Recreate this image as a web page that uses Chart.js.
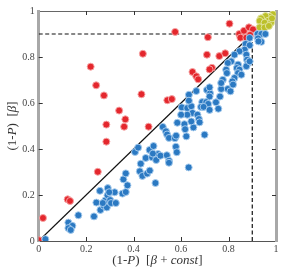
<!DOCTYPE html>
<html>
<head>
<meta charset="utf-8">
<script src="https://cdn.jsdelivr.net/npm/chart.js@4.4.1/dist/chart.umd.min.js"></script>
<style>
  html, body { margin: 0; padding: 0; background: #fff; }
</style>
</head>
<body>
<canvas id="scatterChart" width="293" height="273"></canvas>
<script>
/* datos: x = (1-P)[beta+const], y = (1-P)[beta] */

const bluePoints = [
  [0.028,0.008],[0.125,0.080],[0.142,0.066],[0.125,0.056],[0.135,0.048],
  [0.167,0.112],[0.233,0.107],[0.243,0.167],[0.258,0.218],[0.260,0.135],
  [0.274,0.153],[0.287,0.146],[0.281,0.177],[0.290,0.199],[0.291,0.230],
  [0.301,0.178],[0.305,0.165],[0.320,0.212],[0.325,0.165],[0.297,0.212],
  [0.270,0.165],[0.353,0.206],[0.367,0.213],[0.374,0.242],[0.357,0.268],
  [0.367,0.294],[0.406,0.387],[0.419,0.406],[0.430,0.336],[0.426,0.303],
  [0.437,0.283],[0.451,0.361],[0.457,0.293],[0.467,0.396],[0.468,0.306],
  [0.492,0.252],[0.632,0.320],[0.484,0.413],[0.503,0.378],[0.478,0.364],
  [0.495,0.352],[0.481,0.380],[0.513,0.371],[0.540,0.373],[0.549,0.349],
  [0.549,0.340],[0.578,0.410],[0.582,0.386],[0.523,0.496],[0.536,0.477],
  [0.541,0.463],[0.549,0.448],[0.574,0.447],[0.579,0.458],[0.622,0.455],
  [0.699,0.462],[0.584,0.514],[0.614,0.508],[0.617,0.486],[0.652,0.494],
  [0.603,0.581],[0.626,0.578],[0.643,0.586],[0.648,0.557],[0.626,0.549],
  [0.600,0.549],[0.643,0.520],[0.633,0.636],[0.633,0.610],[0.664,0.652],
  [0.709,0.657],[0.722,0.642],[0.720,0.628],[0.764,0.628],[0.769,0.661],
  [0.797,0.661],[0.808,0.651],[0.689,0.604],[0.706,0.604],[0.714,0.596],
  [0.747,0.603],[0.684,0.583],[0.695,0.583],[0.720,0.570],[0.757,0.575],
  [0.669,0.549],[0.675,0.530],[0.678,0.516],[0.922,0.900],[0.938,0.900],
  [0.955,0.900],[0.924,0.881],[0.938,0.866],[0.926,0.868],[0.889,0.883],
  [0.872,0.857],[0.889,0.851],[0.868,0.832],[0.846,0.825],[0.875,0.810],
  [0.878,0.788],[0.882,0.774],[0.875,0.760],[0.889,0.781],[0.825,0.810],
  [0.811,0.781],[0.797,0.774],[0.790,0.745],[0.793,0.730],[0.840,0.767],
  [0.835,0.752],[0.846,0.745],[0.840,0.730],[0.854,0.723],[0.825,0.709],
  [0.816,0.694],[0.819,0.680],[0.776,0.701],[0.769,0.687],[0.720,0.668]
];

const redPoints = [
  [0.000,0.004],[0.018,0.100],[0.122,0.181],[0.132,0.174],[0.249,0.301],
  [0.285,0.432],[0.285,0.506],[0.219,0.758],[0.242,0.677],[0.275,0.633],
  [0.339,0.567],[0.365,0.529],[0.360,0.497],[0.463,0.497],[0.433,0.638],
  [0.439,0.814],[0.575,0.909],[0.542,0.612],[0.561,0.617],[0.648,0.735],
  [0.664,0.716],[0.672,0.703],[0.709,0.810],[0.761,0.804],[0.786,0.816],
  [0.730,0.753],[0.720,0.746],[0.713,0.886],[0.804,0.945],[0.845,0.900],
  [0.865,0.914],[0.886,0.929],[0.903,0.920],[0.850,0.884],[0.875,0.884],
  [0.891,0.896]
];

const yellowPoints = [
  [1.000,0.997],[0.987,0.986],[0.973,0.975],[0.956,0.978],[0.937,0.968],
  [0.931,0.957],[0.968,0.958],[0.952,0.949],[0.979,0.949],[0.931,0.929],
  [0.952,0.928],[0.970,0.935],[0.983,0.968]
];

const tickValues = [0, 0.2, 0.4, 0.6, 0.8, 1];
const threshold = 0.9;
const diagonal = [[0, 0], [0.9, 0.9]];

const toXY = arr => arr.map(p => ({ x: p[0], y: p[1] }));

const serif = '"Liberation Serif", "DejaVu Serif", serif';

// dibuja texto con partes normales e italicas, centrado en x
function drawParts(ctx, parts, x, y) {
  let total = 0;
  parts.forEach(p => { ctx.font = p[1]; total += ctx.measureText(p[0]).width; });
  let cx = x - total / 2;
  parts.forEach(p => {
    ctx.font = p[1];
    ctx.fillText(p[0], cx, y);
    cx += ctx.measureText(p[0]).width;
  });
}

const frameTicks = {
  id: 'frameTicks',
  afterDraw(chart) {
    const ctx = chart.ctx;
    const area = chart.chartArea;
    const xs = chart.scales.x, ys = chart.scales.y;
    ctx.save();
    ctx.strokeStyle = '#333';
    ctx.lineWidth = 1;
    ctx.beginPath();
    tickValues.slice(1, -1).forEach(v => {
      const px = Math.round(xs.getPixelForValue(v)) + 0.5;
      ctx.moveTo(px, area.bottom); ctx.lineTo(px, area.bottom - 4);
      ctx.moveTo(px, area.top); ctx.lineTo(px, area.top + 4);
      const py = Math.round(ys.getPixelForValue(v)) + 0.5;
      ctx.moveTo(area.left, py); ctx.lineTo(area.left + 4, py);
      ctx.moveTo(area.right, py); ctx.lineTo(area.right - 4, py);
    });
    ctx.stroke();

    // titulos de los ejes
    const N = '13px ' + serif, I = 'italic 13px ' + serif;
    ctx.fillStyle = '#333';
    ctx.textBaseline = 'middle';
    drawParts(ctx, [['(1-', N], ['P', I], [')  [', N], ['\u03B2', I], [' + ', N], ['const', I], [']', N]],
      (area.left + area.right) / 2, 261);
    ctx.translate(13, (area.top + area.bottom) / 2);
    ctx.rotate(-Math.PI / 2);
    drawParts(ctx, [['(1-', N], ['P', I], [')  [', N], ['\u03B2', I], [']', N]], 0, 0);
    ctx.restore();
  }
};

const tickFont = { family: serif, size: 10 };
const fmt = v => (v === 0 ? '0' : v === 1 ? '1' : v.toFixed(1));

var chart = new Chart(document.getElementById('scatterChart').getContext('2d'), {
  type: 'scatter',
  data: {
    datasets: [
      {
        data: toXY(bluePoints),
        backgroundColor: '#2b79c2',
        borderColor: 'rgba(170,205,238,0.95)',
        borderWidth: 1,
        pointRadius: 3.5,
        order: 1
      },
      {
        data: toXY(redPoints),
        backgroundColor: '#e4272d',
        borderColor: 'rgba(245,165,165,0.95)',
        borderWidth: 1,
        pointRadius: 3.5,
        order: 1
      },
      {
        data: toXY(yellowPoints),
        backgroundColor: '#bcc02a',
        borderColor: 'rgba(225,228,160,0.95)',
        borderWidth: 1,
        pointRadius: 3.5,
        order: 1
      },
      {
        type: 'line',
        data: toXY(diagonal),
        borderColor: '#111',
        borderWidth: 1.2,
        pointRadius: 0,
        order: 10
      },
      {
        type: 'line',
        data: [{ x: 0, y: threshold }, { x: threshold, y: threshold }],
        borderColor: '#111',
        borderWidth: 1.2,
        borderDash: [4, 2.5],
        pointRadius: 0,
        order: 10
      },
      {
        type: 'line',
        data: [{ x: threshold, y: 0 }, { x: threshold, y: threshold }],
        borderColor: '#111',
        borderWidth: 1.2,
        borderDash: [4, 2.5],
        pointRadius: 0,
        order: 10
      }
    ]
  },
  options: {
    responsive: false,
    animation: false,
    layout: { padding: 0 },
    plugins: { legend: { display: false }, tooltip: { enabled: false } },
    scales: {
      x: {
        type: 'linear', position: 'bottom', min: 0, max: 1,
        afterBuildTicks: s => { s.ticks = tickValues.map(v => ({ value: v })); },
        afterFit: s => { s.height = 32; },
        ticks: { font: tickFont, color: '#444', padding: 2, maxRotation: 0, callback: fmt },
        grid: { display: false, drawTicks: false },
        border: { color: '#555', width: 1 }
      },
      x2: {
        type: 'linear', position: 'top', min: 0, max: 1,
        afterFit: s => { s.height = 11; },
        ticks: { display: false },
        grid: { display: false, drawTicks: false },
        border: { color: '#666', width: 1 }
      },
      y: {
        type: 'linear', position: 'left', min: 0, max: 1,
        afterBuildTicks: s => { s.ticks = tickValues.map(v => ({ value: v })); },
        afterFit: s => { s.width = 38.7; },
        ticks: { font: tickFont, color: '#444', padding: 4, callback: fmt },
        grid: { display: false, drawTicks: false },
        border: { color: '#a8a8a8', width: 3 }
      },
      y2: {
        type: 'linear', position: 'right', min: 0, max: 1,
        afterFit: s => { s.width = 17; },
        ticks: { display: false },
        grid: { display: false, drawTicks: false },
        border: { color: '#a8a8a8', width: 3 }
      }
    }
  },
  plugins: [frameTicks]
});
</script>
</body>
</html>
